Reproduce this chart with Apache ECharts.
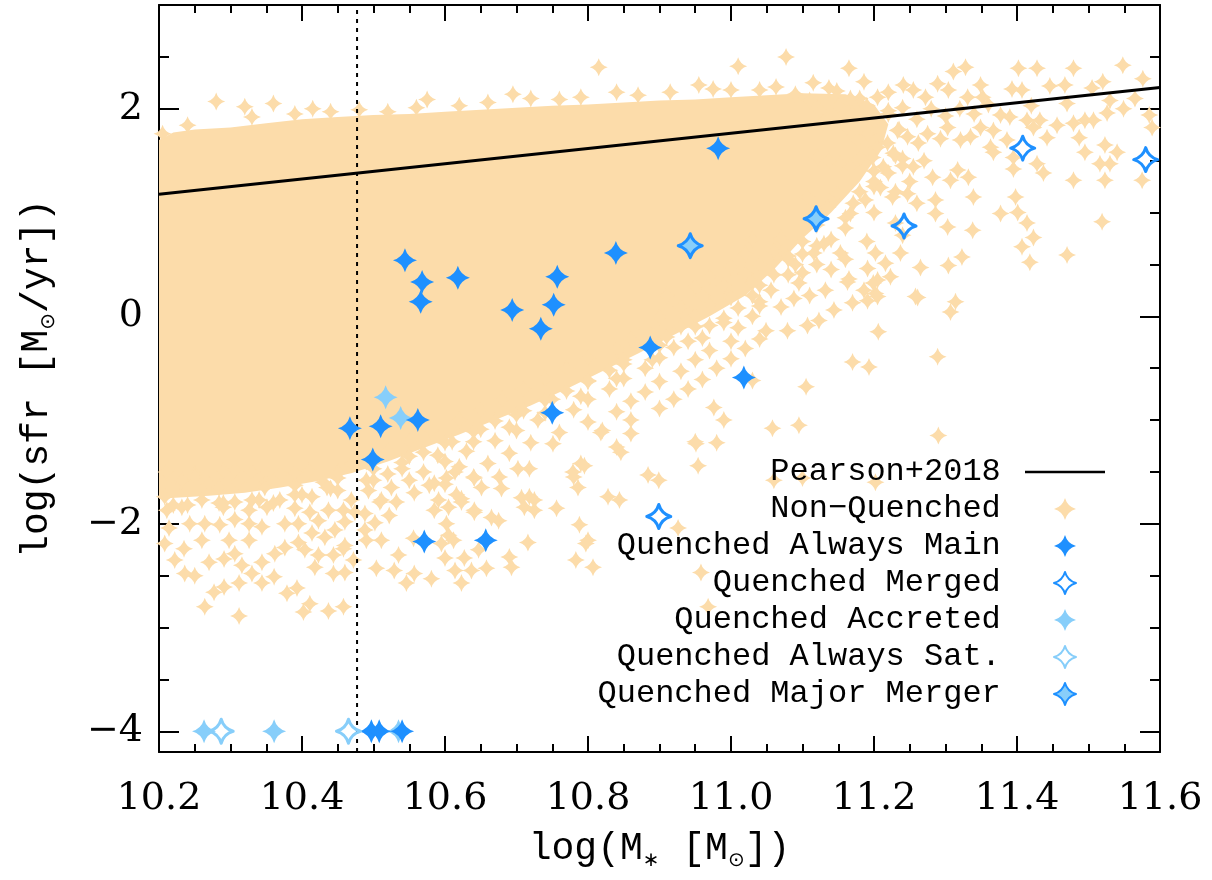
<!DOCTYPE html>
<html>
<head>
<meta charset="utf-8">
<script src="https://cdn.jsdelivr.net/npm/echarts@6/dist/echarts.min.js"></script>
<style>
  html, body { margin: 0; padding: 0; background: #fff; }
  #chart { width: 1212px; height: 880px; }
</style>
</head>
<body>
<div id="chart"></div>
<script>
// Axis ranges and tick values
const X_MIN = 10.2, X_MAX = 11.6;
const Y_MIN = -4.2, Y_MAX = 3.0;
const xMajorTicks = [10.2, 10.4, 10.6, 10.8, 11.0, 11.2, 11.4, 11.6];
const xMinorTicks = [10.25, 10.3, 10.35, 10.45, 10.5, 10.55, 10.65, 10.7, 10.75, 10.85, 10.9, 10.95,
                     11.05, 11.1, 11.15, 11.25, 11.3, 11.35, 11.45, 11.5, 11.55];
const yMajorTicks = [-4, -2, 0, 2];
const yMinorTicks = [-3.5, -3, -2.5, -1.5, -1, -0.5, 0.5, 1, 1.5, 2.5, 3];

// Pearson+2018 main-sequence relation (end points across the mass range)
const pearsonLine = [[10.2, 1.176], [11.6, 2.204]];
// Stellar-mass cut (dotted vertical)
const massCutLine = [[10.477, -4.2], [10.477, 3.0]];

// Outline of the densely packed part of the non-quenched population
const nonQuenchedCore = [
  [10.2, 1.70], [10.22, 1.77], [10.25, 1.80], [10.3, 1.82], [10.35, 1.86], [10.4, 1.90], [10.45, 1.92],
  [10.5, 1.94], [10.55, 1.95], [10.6, 1.97], [10.65, 1.99], [10.7, 2.01], [10.75, 2.03], [10.8, 2.04],
  [10.85, 2.06], [10.9, 2.08], [10.95, 2.09], [11.0, 2.11], [11.05, 2.13], [11.1, 2.15], [11.16, 2.14],
  [11.2, 2.04], [11.22, 1.85], [11.21, 1.6], [11.18, 1.3], [11.14, 1.0], [11.1, 0.75], [11.06, 0.45],
  [11.02, 0.2], [10.97, 0.0], [10.92, -0.18], [10.87, -0.36], [10.82, -0.53], [10.77, -0.7], [10.72, -0.86],
  [10.67, -1.0], [10.62, -1.14], [10.57, -1.27], [10.52, -1.4], [10.47, -1.51], [10.42, -1.59], [10.37, -1.65],
  [10.32, -1.7], [10.27, -1.73], [10.2, -1.76]
];

// Individual non-quenched galaxies around the dense core
const nonQuenched = [
  // upper envelope
  [10.205,1.76],[10.24,1.84],[10.28,2.07],[10.32,2.02],[10.33,1.92],[10.36,2.05],[10.39,1.95],[10.415,2.0],
  [10.44,1.97],[10.48,1.99],[10.52,1.97],[10.56,2.01],[10.575,2.09],[10.62,2.03],[10.66,2.06],[10.695,2.14],
  [10.72,2.10],[10.76,2.09],[10.79,2.11],[10.815,2.40],[10.84,2.16],[10.87,2.13],[10.915,2.16],[10.955,2.23],
  [10.975,2.19],[11.0,2.18],[11.01,2.41],[11.04,2.18],[11.063,2.21],[11.077,2.50],[11.09,2.14],
  // edge of the dense core
  [11.18,2.1],[11.22,1.98],[11.235,1.8],[11.23,1.55],[11.2,1.25],[11.16,0.95],[11.12,0.68],[11.08,0.4],
  [11.04,0.14],[10.99,-0.06],[10.94,-0.24],[10.89,-0.42],[10.84,-0.6],[10.79,-0.77],[10.74,-0.93],[10.69,-1.07],
  [10.64,-1.21],[10.59,-1.34],[10.54,-1.47],[10.49,-1.58],[10.44,-1.66],[10.39,-1.72],[10.34,-1.77],[10.29,-1.8],
  [10.24,-1.82],[11.2,1.4],[11.12,0.88],[11.08,0.58],[11.04,0.3],[10.95,-0.1],[10.9,-0.28],[10.85,-0.46],
  [10.8,-0.63],[10.75,-0.8],[10.7,-0.95],[10.65,-1.09],[10.6,-1.22],[10.55,-1.35],[10.5,-1.47],[10.45,-1.56],
  // high-mass star-forming tail
  [11.11,2.08],[11.115,2.25],[11.125,1.98],[11.137,2.2],[11.148,2.17],[11.148,1.95],[11.162,1.82],[11.165,2.39],
  [11.167,2.1],[11.177,1.70],[11.186,2.26],[11.191,1.76],[11.205,2.11],[11.205,1.63],[11.219,1.67],[11.22,2.16],
  [11.233,1.79],[11.241,2.23],[11.247,1.73],[11.255,2.18],[11.262,1.67],[11.272,2.11],[11.275,1.76],[11.289,2.24],
  [11.293,1.71],[11.303,1.82],[11.304,2.18],[11.311,2.36],[11.321,1.70],[11.328,2.40],[11.331,2.11],[11.335,1.73],
  [11.349,1.82],[11.349,2.23],[11.352,2.11],[11.367,1.79],[11.377,1.94],[11.39,1.92],[11.393,2.19],[11.402,2.39],
  [11.407,2.18],[11.414,1.89],[11.423,1.82],[11.428,2.39],[11.432,1.89],[11.446,2.22],[11.456,1.84],[11.467,2.23],
  [11.479,1.86],[11.479,2.39],[11.495,1.89],[11.505,2.2],[11.507,1.89],[11.52,2.26],[11.526,1.96],[11.548,2.42],
  [11.549,2.0],[11.576,2.29],[11.585,1.94],[11.589,1.82],
  [11.13,1.88],[11.15,2.03],[11.17,1.95],[11.19,2.03],[11.2,1.88],[11.22,1.95],[11.24,2.01],[11.26,1.9],
  [11.28,2.0],[11.3,1.93],[11.32,2.0],[11.34,1.95],[11.36,2.04],[11.42,2.03],[11.47,2.05],[11.53,2.08],[11.565,2.1],
  [11.121,1.53],[11.137,1.50],[11.153,1.47],[11.167,1.44],[11.181,1.53],[11.198,1.53],[11.213,1.44],[11.227,1.57],
  [11.240,1.52],[11.255,1.44],[11.27,1.5],[11.282,1.34],[11.317,1.41],[11.307,1.31],[11.332,1.34],[11.363,1.63],
  [11.367,1.58],[11.386,1.70],[11.395,1.53],[11.395,1.42],[11.428,1.47],[11.437,1.38],[11.442,1.72],[11.479,1.31],
  [11.487,1.72],[11.495,1.58],[11.516,1.47],[11.53,1.47],[11.523,1.65],[11.540,1.58],[11.523,1.31],[11.575,1.31],
  [11.107,1.15],[11.135,1.05],[11.149,1.18],[11.167,0.99],[11.171,1.09],[11.188,1.12],[11.209,1.24],[11.226,1.15],
  [11.247,1.18],[11.26,1.09],[11.286,1.12],[11.286,0.99],[11.303,0.86],[11.338,0.83],[11.339,1.15],[11.377,0.99],
  [11.398,1.15],[11.401,1.00],[11.414,0.9],[11.423,0.76],[11.519,0.91],
  [11.2,1.3],[11.22,1.38],[11.18,1.2],[11.2,1.0],[11.16,0.85],[11.13,0.7],[11.1,0.6],[11.09,0.5],
  [11.16,0.55],[11.23,0.9],[11.25,1.3],[11.24,1.45],[11.23,1.2],[11.19,0.72],[11.24,0.78],
  [11.116,0.61],[11.132,0.25],[11.153,0.61],[11.165,0.36],[11.186,0.25],[11.191,0.46],[11.202,0.61],[11.202,0.22],
  [11.205,0.35],[11.216,0.51],[11.223,0.38],[11.237,0.61],[11.261,0.18],[11.265,0.47],[11.304,0.49],[11.323,0.57],
  [11.407,0.67],[11.418,0.52],[11.47,0.59],
  [11.056,0.25],[11.095,0.32],[11.163,0.33],[11.199,0.32],[11.170,0.13],[11.191,0.15],[11.205,0.19],[11.144,0.06],
  [11.123,-0.04],[11.107,-0.09],[11.079,-0.14],[11.070,0.09],[11.088,0.17],[11.049,-0.14],[11.206,-0.15],[11.258,0.19],
  [11.314,0.14],[11.307,0.04],[11.17,-0.44],[11.193,-0.49],[11.289,-0.39],[11.105,-0.68],[11.058,-1.08],[11.095,-1.05],
  [11.29,-1.15],[11.06,-1.58],[11.10,-1.56],[11.202,-1.60],
  // transition band below the core
  [11.03,0.74],[11.07,0.75],[11.1,0.72],[11.14,0.74],[11.02,0.6],[11.06,0.63],[11.08,0.55],
  [11.0,0.48],[11.04,0.5],[11.12,0.5],[10.97,0.38],[11.02,0.41],[11.06,0.4],[11.1,0.42],[11.14,0.45],
  [10.95,0.29],[10.99,0.3],[11.03,0.32],[10.91,0.2],[10.96,0.2],[11.0,0.18],[11.03,0.2],[11.11,0.2],
  [10.93,0.09],[10.97,0.11],[11.01,0.08],[11.04,0.1],[10.9,-0.01],[10.95,0.01],[10.99,-0.02],[11.03,0.0],
  [10.88,-0.12],[10.93,-0.1],[10.97,-0.09],[11.01,-0.11],
  [10.86,-0.22],[10.91,-0.2],[10.96,-0.21],[11.0,-0.24],[11.04,-0.22],
  [10.84,-0.31],[10.92,-0.3],[10.97,-0.33],[11.02,-0.31],
  [10.8,-0.4],[10.85,-0.42],[10.9,-0.4],[10.95,-0.42],[11.0,-0.41],
  [10.77,-0.5],[10.83,-0.52],[10.88,-0.5],[10.93,-0.53],[10.98,-0.5],
  [10.74,-0.6],[10.8,-0.62],[10.85,-0.6],[10.9,-0.63],[10.96,-0.61],[11.03,-0.62],
  [10.71,-0.7],[10.77,-0.72],[10.83,-0.7],[10.88,-0.73],[10.94,-0.7],
  [10.68,-0.8],[10.74,-0.81],[10.8,-0.8],[10.86,-0.82],[10.92,-0.8],
  [10.65,-0.9],[10.71,-0.91],[10.78,-0.9],[10.84,-0.92],[10.9,-0.89],
  [10.62,-1.0],[10.67,-1.01],[10.73,-1.0],[10.8,-1.02],[10.86,-1.0],[10.99,-1.0],
  [10.58,-1.1],[10.64,-1.11],[10.7,-1.1],[10.76,-1.12],[10.82,-1.1],[10.86,-1.13],
  [10.976,-0.88],[10.95,-1.21],[10.98,-1.22],
  [10.55,-1.2],[10.61,-1.21],[10.67,-1.2],[10.72,-1.22],[10.751,-1.23],[10.84,-1.26],
  [10.52,-1.3],[10.57,-1.31],[10.63,-1.3],[10.69,-1.32],[10.846,-1.31],[10.818,-1.12],
  [10.49,-1.4],[10.54,-1.41],[10.6,-1.4],[10.66,-1.42],[10.718,-1.47],[10.79,-1.42],[10.702,-1.47],[10.614,-1.50],
  [10.779,-1.50],[10.795,-1.44],[10.954,-1.44],[10.951,-1.23],[10.884,-1.53],[10.899,-1.58],
  // sparse low-sfr tail
  [10.828,-1.74],[10.844,-1.77],[10.788,-2.01],[10.800,-2.16],[10.783,-2.35],[10.807,-2.42],[10.716,-2.18],
  [10.690,-2.32],[10.693,-2.42],[10.658,-2.43],[10.627,-2.33],[10.623,-2.57],[10.581,-2.53],[10.60,-2.33],
  [10.614,-2.45],[10.926,-2.04],[10.756,-1.85],[10.725,-1.77],[10.707,-1.75],[10.711,-1.84],[10.675,-1.97],
  [10.665,-1.94],[10.641,-1.87],[10.623,-1.76],[10.602,-2.00],[10.605,-2.11],[10.585,-1.87],[10.651,-1.65],
  [10.679,-1.66],[10.676,-1.55],[10.585,-1.61],[10.786,-1.65],[10.78,-1.55],[10.958,-2.47],[10.968,-2.80],
  [10.718,-1.74],[10.725,-1.87],[10.797,-2.19],[10.57,-1.5],[10.6,-1.62],[10.64,-1.55],[10.55,-1.58],[10.52,-1.52],[10.62,-1.45],
  [10.21,-1.5],[10.25,-1.52],[10.29,-1.49],[10.33,-1.5],[10.37,-1.52],[10.41,-1.49],[10.45,-1.5],[10.47,-1.42],
  [10.23,-1.6],[10.27,-1.62],[10.31,-1.6],[10.35,-1.6],[10.39,-1.63],[10.43,-1.6],[10.5,-1.58],
  [10.208,-1.74],[10.232,-1.58],[10.26,-1.77],[10.25,-1.55],[10.284,-1.65],[10.306,-1.48],[10.326,-1.87],[10.348,-1.65],
  [10.369,-1.77],[10.39,-1.51],[10.414,-1.74],[10.435,-1.65],[10.451,-1.51],[10.469,-1.77],[10.488,-1.90],[10.511,-1.77],
  [10.525,-1.65],
  [10.264,-2.80],[10.312,-2.89],[10.402,-2.85],[10.411,-2.77],[10.437,-2.84],[10.458,-2.80],[10.277,-2.66],[10.291,-2.61],
  [10.312,-2.57],[10.330,-2.48],[10.344,-2.57],[10.361,-2.51],[10.379,-2.67],[10.393,-2.62],[10.418,-2.42],[10.444,-2.48],
  [10.460,-2.47],[10.472,-2.35],[10.504,-2.43],[10.529,-2.45],[10.546,-2.57],[10.557,-2.48],[10.637,-2.45],[10.490,-2.16],
  [10.511,-2.16],[10.535,-2.30],[10.556,-2.14],[10.502,-1.99],[10.522,-1.92],[10.509,-1.79],[10.532,-1.79],[10.557,-1.70],
  [10.493,-1.68],[10.488,-2.06],[10.605,-1.84],[10.591,-1.77],[10.616,-1.72],[10.623,-1.79],[10.641,-1.89],[10.641,-1.56],
  [10.602,-1.56],[10.578,-1.63],[10.595,-2.19],[10.612,-2.16],[10.647,-2.25],[10.458,-2.24],[10.444,-2.30],[10.423,-2.30],
  [10.404,-2.25],[10.395,-2.18],[10.414,-2.09],[10.432,-2.13],[10.446,-2.06],[10.460,-2.21],[10.376,-2.23],[10.362,-2.29],
  [10.344,-2.37],[10.316,-2.40],[10.306,-2.29],[10.291,-2.34],[10.270,-2.37],[10.250,-2.50],[10.236,-2.48],[10.222,-2.35],
  [10.208,-2.19],[10.235,-2.24],[10.260,-2.16],[10.298,-2.16],[10.326,-2.16],[10.344,-2.03],[10.326,-2.00],[10.306,-1.96],
  [10.285,-2.01],[10.264,-2.00],[10.243,-2.00],[10.214,-2.04],[10.376,-2.00],[10.395,-2.00],[10.423,-1.97],[10.460,-1.98],
  [10.474,-1.89],[10.458,-1.87],[10.437,-1.87],[10.411,-1.89],[10.390,-1.85],[10.351,-1.84],[10.330,-1.77],[10.306,-1.79],
  [10.284,-1.80],[10.232,-1.84],[10.211,-1.87],[10.22,-1.82],[10.29,-1.84],[10.36,-1.8],[10.4,-1.72],[10.45,-1.68]
];

// Quenched galaxies by history
const quenchedAlwaysMain = [
  [10.544,0.54],[10.568,0.33],[10.566,0.14],[10.618,0.37],[10.694,0.06],[10.734,-0.12],[10.752,0.11],
  [10.757,0.38],[10.839,0.61],[10.887,-0.30],[10.982,1.62],[11.018,-0.59],[10.750,-0.93],[10.467,-1.08],
  [10.510,-1.06],[10.562,-1.00],[10.499,-1.38],[10.571,-2.17],[10.657,-2.16],
  [10.497,-4.0],[10.508,-4.0],[10.540,-4.0]
];
const quenchedMerged = [[10.899,-1.93],[11.242,0.87],[11.408,1.62],[11.580,1.51]];
const quenchedAccreted = [[10.517,-0.78],[10.538,-0.98],[10.263,-4.0],[10.361,-4.0],[10.535,-4.0]];
const quenchedAlwaysSat = [[10.287,-4.0],[10.465,-4.0]];
const quenchedMajorMerger = [[10.943,0.68],[11.119,0.94]];

const BEIGE = '#FCDCAA';
const DARK_BLUE = '#1E90FF';
const LIGHT_BLUE = '#87CEFA';
const STAR = 'path://M0,-10Q2.2,-2.2,10,0Q2.2,2.2,0,10Q-2.2,2.2,-10,0Q-2.2,-2.2,0,-10Z';

const TICK_FONT = 'DejaVu Serif';
const TEXT_FONT = 'Liberation Mono';

function minusSign(v) {
  return v < 0 ? '\u2212' + Math.abs(v) : String(v);
}

function axisBase(min, max) {
  return {
    type: 'value', min: min, max: max,
    splitLine: { show: false },
    axisLine: { show: false },
    axisLabel: { show: false },
    axisTick: { show: false }
  };
}

function tickAxis(min, max, position, values, length, withLine) {
  const a = axisBase(min, max);
  a.position = position;
  a.axisLine = { show: withLine, onZero: false, lineStyle: { color: '#000', width: 2 } };
  a.axisTick = { show: true, inside: true, length: length, customValues: values,
                 lineStyle: { color: '#000', width: 2 } };
  return a;
}

const subStyle = {
  s: { fontFamily: 'DejaVu Sans', fontSize: 20, color: '#000', verticalAlign: 'bottom', lineHeight: 22 }
};

const xBottom = tickAxis(X_MIN, X_MAX, 'bottom', xMajorTicks, 16, true);
xBottom.axisLabel = {
  show: true, customValues: xMajorTicks, formatter: v => v.toFixed(1),
  fontFamily: TICK_FONT, fontSize: 38, color: '#000', margin: 28
};
xBottom.name = 'log(M{s|\u2217} [M{s|\u2299}])';
xBottom.nameLocation = 'middle';
xBottom.nameGap = 75;
xBottom.nameTextStyle = { fontFamily: TEXT_FONT, fontSize: 38, color: '#000', lineHeight: 44, rich: subStyle };

const yLeft = tickAxis(Y_MIN, Y_MAX, 'left', yMajorTicks, 20, true);
yLeft.axisLabel = {
  show: true, customValues: yMajorTicks, formatter: minusSign,
  fontFamily: TICK_FONT, fontSize: 38, color: '#000', margin: 16
};
yLeft.name = 'log(sfr [M{s|\u2299}/yr])';
yLeft.nameLocation = 'middle';
yLeft.nameGap = 100;
yLeft.nameTextStyle = { fontFamily: TEXT_FONT, fontSize: 38, color: '#000', lineHeight: 44, rich: subStyle };

const hollow = (color) => ({ color: 'rgba(0,0,0,0)', borderColor: color, borderWidth: 3, borderJoin: 'round', opacity: 1 });

const option = {
  animation: false,
  backgroundColor: '#fff',
  grid: { left: 159, right: 52, top: 5, bottom: 128, containLabel: false },
  xAxis: [
    xBottom,
    tickAxis(X_MIN, X_MAX, 'bottom', xMinorTicks, 8, false),
    tickAxis(X_MIN, X_MAX, 'top', xMajorTicks, 16, true),
    tickAxis(X_MIN, X_MAX, 'top', xMinorTicks, 8, false)
  ],
  yAxis: [
    yLeft,
    tickAxis(Y_MIN, Y_MAX, 'left', yMinorTicks, 10, false),
    tickAxis(Y_MIN, Y_MAX, 'right', yMajorTicks, 20, true),
    tickAxis(Y_MIN, Y_MAX, 'right', yMinorTicks, 10, false)
  ],
  legend: {
    data: [
      { name: 'Pearson+2018', icon: 'path://M0,0L80,0L80,2.5L0,2.5Z', itemStyle: { borderWidth: 0 } },
      'Non\u2212Quenched', 'Quenched Always Main', 'Quenched Merged',
      'Quenched Accreted', 'Quenched Always Sat.', 'Quenched Major Merger'
    ],
    orient: 'vertical', align: 'right',
    right: 107, top: 456, padding: 0,
    itemWidth: 80, itemHeight: 22, itemGap: 5,
    selectedMode: false,
    formatter: name => name + ' ',
    textStyle: { fontFamily: TEXT_FONT, fontSize: 32, color: '#000', lineHeight: 24 }
  },
  series: [
    {
      type: 'custom', name: 'coreFill', coordinateSystem: 'cartesian2d',
      xAxisIndex: 0, yAxisIndex: 0, silent: true, clip: true, z: 1,
      data: [nonQuenchedCore[0]],
      renderItem: function (params, api) {
        return {
          type: 'polygon',
          shape: { points: nonQuenchedCore.map(p => api.coord(p)) },
          style: { fill: BEIGE }
        };
      }
    },
    {
      type: 'scatter', name: 'Non\u2212Quenched', data: nonQuenched,
      symbol: STAR, symbolSize: 18, silent: true, z: 2,
      itemStyle: { color: BEIGE, opacity: 1 }
    },
    {
      type: 'line', name: 'massCut', data: massCutLine, symbol: 'none', silent: true, z: 3,
      lineStyle: { color: '#000', width: 2, type: [4, 5] }
    },
    {
      type: 'line', name: 'Pearson+2018', data: pearsonLine, symbol: 'none', silent: true, z: 4,
      itemStyle: { color: '#000' },
      lineStyle: { color: '#000', width: 3 }
    },
    {
      type: 'scatter', name: 'Quenched Always Main', data: quenchedAlwaysMain,
      symbol: STAR, symbolSize: 24, silent: true, z: 6,
      itemStyle: { color: DARK_BLUE, opacity: 1 }
    },
    {
      type: 'scatter', name: 'Quenched Merged', data: quenchedMerged,
      symbol: STAR, symbolSize: 24, silent: true, z: 6,
      itemStyle: hollow(DARK_BLUE)
    },
    {
      type: 'scatter', name: 'Quenched Accreted', data: quenchedAccreted,
      symbol: STAR, symbolSize: 24, silent: true, z: 5,
      itemStyle: { color: LIGHT_BLUE, opacity: 1 }
    },
    {
      type: 'scatter', name: 'Quenched Always Sat.', data: quenchedAlwaysSat,
      symbol: STAR, symbolSize: 24, silent: true, z: 6,
      itemStyle: hollow(LIGHT_BLUE)
    },
    {
      type: 'scatter', name: 'Quenched Major Merger', data: quenchedMajorMerger,
      symbol: STAR, symbolSize: 24, silent: true, z: 6,
      itemStyle: { color: LIGHT_BLUE, borderColor: DARK_BLUE, borderWidth: 3, borderJoin: 'round', opacity: 1 }
    }
  ]
};

const chart = echarts.init(document.getElementById('chart'), null, { renderer: 'canvas' });
chart.setOption(option);
</script>
</body>
</html>
